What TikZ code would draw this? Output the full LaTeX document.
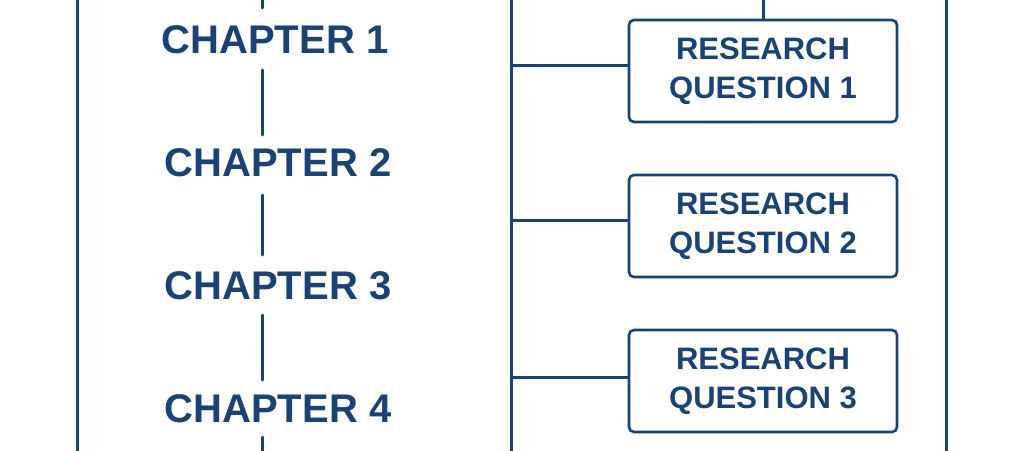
\documentclass[tikz,border=0pt]{standalone}
\usepackage{fontspec}
\setmainfont{Liberation Sans}
\begin{document}
\begin{tikzpicture}[x=1pt,y=-1pt,
  ln/.style={draw=navy,line width=3pt,line cap=round},
  chap/.style={text=navy,font=\fontsize{40}{44}\selectfont\bfseries,inner sep=0},
  rq/.style={draw=navy,line width=2.6pt,rounded corners=5pt,minimum width=268pt,minimum height=102pt,align=center,text=navy,font=\fontsize{31}{39}\selectfont\bfseries}]
\definecolor{navy}{HTML}{1B4274}
\useasboundingbox[fill=white] (0,0) rectangle (1024,450);
\draw[ln] (77,-5) -- (77,455);
\draw[ln] (946,-5) -- (946,455);
\coordinate (mt) at (511,-5); \coordinate (mb) at (511,455);
\draw[ln] (mt) -- (mb);
\node[chap] (c1) at (275,40) {CHAPTER 1};
\node[chap] (c2) at (278,163) {CHAPTER 2};
\node[chap] (c3) at (278,286) {CHAPTER 3};
\node[chap] (c4) at (278,409) {CHAPTER 4};
\foreach \a/\b in {-5/8,70/135,195/255,315/380,437/455}
  \draw[ln] (262,\a) -- (262,\b);
\node[rq] (r1) at (763,71) {RESEARCH\\QUESTION 1};
\node[rq] (r2) at (763,226) {RESEARCH\\QUESTION 2};
\node[rq] (r3) at (763,381) {RESEARCH\\QUESTION 3};
\coordinate (rt) at (763,-5);
\draw[ln] (rt) -- (r1.north);
\draw[ln] (r1.west |- 0,65) -- (511,65);
\draw[ln] (r2.west |- 0,220) -- (511,220);
\draw[ln] (r3.west |- 0,377) -- (511,377);
\end{tikzpicture}
\end{document}
